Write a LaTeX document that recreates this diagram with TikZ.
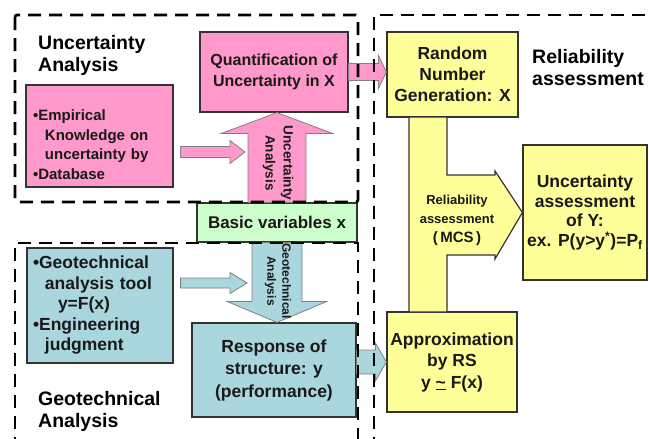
\documentclass[tikz,border=0pt]{standalone}
\usepackage{fontspec}
\setmainfont{Liberation Sans}
\usetikzlibrary{calc}

\definecolor{uncPink}{HTML}{FF99CC}
\definecolor{geoBlue}{HTML}{AAD6DE}
\definecolor{varGreen}{HTML}{CCFFCC}
\definecolor{relYellow}{HTML}{FFFF99}
\definecolor{edgeGray}{HTML}{333333}

%% block arrows: style, from, to, shaft half width, head half width, head length
\newcommand{\hblock}[6]{%
  \draw[#1] let \p1=(#2), \p2=(#3), \p3=($(#3)!#6!(#2)$) in
    (\x1,\y1+#4) -- (\x3,\y1+#4) -- (\x3,\y1+#5) -- (\x2,\y1)
    -- (\x3,\y1-#5) -- (\x3,\y1-#4) -- (\x1,\y1-#4) -- cycle;}
\newcommand{\vblock}[6]{%
  \draw[#1] let \p1=(#2), \p2=(#3), \p3=($(#3)!#6!(#2)$) in
    (\x1+#4,\y1) -- (\x1+#4,\y3) -- (\x1+#5,\y3) -- (\x1,\y2)
    -- (\x1-#5,\y3) -- (\x1-#4,\y3) -- (\x1-#4,\y1) -- cycle;}

\tikzset{
  box/.style={draw=edgeGray, line width=1.2pt, inner sep=2pt, align=center, text=black!90},
  uncBox/.style={box, fill=uncPink},
  geoBox/.style={box, fill=geoBlue},
  varBox/.style={box, fill=varGreen},
  relBox/.style={box, fill=relYellow},
  boxFont/.style={font=\fontsize{17.5}{#1}\selectfont\bfseries},
  boxFont/.default=21,
  title/.style={anchor=north west, inner sep=0pt, align=left, font=\fontsize{19.5}{22}\selectfont\bfseries},
  uncArrow/.style={fill=uncPink, draw=black!50, line width=0.8pt},
  geoArrow/.style={fill=geoBlue, draw=black!50, line width=0.8pt},
  relArrow/.style={fill=relYellow, draw=edgeGray, line width=1.2pt},
  region/.style={line width=2.6pt, dash pattern=on 13pt off 8pt},
  sideText/.style={rotate=-90, align=center, inner sep=0pt, text=black!90}
}

\begin{document}
\begin{tikzpicture}[x=1pt, y=-1pt]
  \useasboundingbox (0,0) rectangle (649,439);
  \clip (0,0) rectangle (649,439);
  \fill[white] (0,0) rectangle (649,439);
  %% titles of the parts
  \node[title] (uncTitle) at (38,35) {Uncertainty\\Analysis};
  \node[title] (relTitle) at (532,49) {Reliability\\assessment};
  \node[title] (geoTitle) at (38,391) {Geotechnical\\Analysis};
  %% boxes
  \node[uncBox, minimum width=148pt, minimum height=80pt, font=\fontsize{16}{21}\selectfont\bfseries]
    (quant) at (274,72) {Quantification of\\Uncertainty in X};
  \node[uncBox, minimum width=147pt, minimum height=102pt, text width=133pt, inner xsep=7pt, align=left,
    font=\fontsize{15}{19.5}\selectfont\bfseries]
    (emp) at (99.5,136) {\rule{0pt}{28pt}•Empirical\\\hspace*{12pt}Knowledge on\\\hspace*{12pt}uncertainty by\\•Database};
  \node[varBox, minimum width=160pt, minimum height=39pt, font=\fontsize{17}{20}\selectfont\bfseries]
    (basic) at (277,222.5) {Basic variables x};
  \node[geoBox, minimum width=146pt, minimum height=115pt, text width=134pt, inner xsep=6pt, align=left,
    font=\fontsize{17.5}{20.5}\selectfont\bfseries]
    (geo) at (100,305.5) {•Geotechnical\\\hspace*{12pt}analysis tool\\\hspace*{25pt}y=F(x)\\•Engineering\\\hspace*{12pt}judgment};
  \node[geoBox, minimum width=164pt, minimum height=94pt, boxFont=22.5]
    (resp) at (274,370) {Response of\\structure: y\\(performance)};
  \node[relBox, minimum width=131pt, minimum height=85pt, boxFont]
    (rng) at (452.5,74.5) {Random\\Number\\Generation: X};
  \node[relBox, minimum width=124pt, minimum height=135pt, boxFont=19.5]
    (unc) at (585,212.5) {Uncertainty\\assessment\\of Y:\\ex. P(y>y\textsuperscript{*})=P\textsubscript{f}};
  \node[relBox, minimum width=130pt, minimum height=100pt, boxFont=21.5]
    (approx) at (452,362) {Approximation\\by RS\\y \underline{\textasciitilde} F(x)};
  %% block arrows
  \coordinate (uaTip) at (245,152);
  \coordinate (empOut) at ($(emp.east |- uaTip)+(7,0)$);
  \coordinate (gaTip) at (247,283);
  \coordinate (geoOut) at ($(geo.east |- gaTip)+(7,0)$);
  \coordinate (respOut) at (resp.east |- approx.west);
  \vblock{uncArrow}{basic.north}{quant.south}{29pt}{56pt}{21pt}
  \vblock{geoArrow}{basic.south}{resp.north}{25pt}{50pt}{21pt}
  \hblock{uncArrow}{empOut}{uaTip}{5.5pt}{11.5pt}{15pt}
  \hblock{geoArrow}{geoOut}{gaTip}{5pt}{10.5pt}{17pt}
  \hblock{uncArrow}{quant.east}{rng.west}{8.5pt}{16.5pt}{8pt}
  \hblock{geoArrow}{respOut}{approx.west}{12pt}{19pt}{11pt}
  \draw[relArrow] (409,117) -- (447,117) -- (447,175) -- (495,175) -- (495,171) -- (unc.west)
    -- (495,259) -- (495,255) -- (447,255) -- (447,312) -- (409,312) -- cycle;
  %% arrow labels
  \node[sideText, font=\fontsize{13.5}{18}\selectfont\bfseries] (uaText) at (278,163) {Uncertainty\\Analysis};
  \node[sideText, font=\fontsize{12}{15}\selectfont\bfseries] (gaText) at (278,281) {Geotechnical\\Analysis};
  \node[align=center, inner sep=0pt, text=black!90, font=\fontsize{13}{19}\selectfont\bfseries]
    (mcsText) at (457,220) {Reliability\\assessment\\{\fontsize{15}{20}\selectfont(\,MCS\,)}};
  %% dashed part frames
  \draw[region, rounded corners=2pt] (15,15) rectangle (358,202);
  \draw[region] (15,450) -- (15,243) -- (358,243) -- (358,450);
  \draw[region] (374,450) -- (374,15) -- (660,15);
\end{tikzpicture}
\end{document}
